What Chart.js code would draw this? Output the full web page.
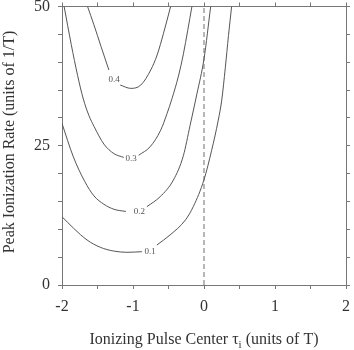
<!DOCTYPE html>
<html>
<head>
<meta charset="utf-8">
<script src="https://cdn.jsdelivr.net/npm/chart.js@4.4.1/dist/chart.umd.min.js"></script>
<style>
html,body{margin:0;padding:0;background:#fff;}
canvas{display:block;}
</style>
</head>
<body>
<canvas id="c" width="354" height="350"></canvas>
<script>
// ---- data ----
const contourLevels = ['0.1', '0.2', '0.3', '0.4'];

// each contour split in two branches around its inline label: [x, y]
const c01Left  = [[-2.0,12.26],[-1.836,10.18],[-1.647,8.08],[-1.461,6.77],[-1.274,6.10],[-1.086,5.87],[-0.875,5.98]];
const c01Right = [[-0.664,7.18],[-0.478,8.98],[-0.26,11.7],[-0.15,14.1],[0.0,18.9],[0.108,24.2],[0.201,29.6],[0.25,33.2],[0.30,39.0],[0.345,44.8],[0.389,50]];

const c02Left  = [[-2.0,29.0],[-1.84,23.0],[-1.68,18.6],[-1.55,16.0],[-1.41,14.5],[-1.27,13.6],[-1.10,13.2]];
const c02Right = [[-0.805,14.06],[-0.618,15.85],[-0.431,18.85],[-0.291,23.2],[-0.197,28.6],[-0.10,34.3],[0.0,40.6],[0.094,50]];

const c03Left  = [[-1.97,50],[-1.87,43.2],[-1.78,37.6],[-1.70,33.4],[-1.62,30.4],[-1.55,28.5],[-1.41,25.3],[-1.27,23.6],[-1.13,22.9]];
const c03Right = [[-0.92,23.3],[-0.76,24.8],[-0.61,27.8],[-0.52,30.8],[-0.45,33.5],[-0.36,37.5],[-0.29,41.5],[-0.17,50]];

const c04Left  = [[-1.64,50],[-1.55,46.7],[-1.45,42.8],[-1.34,38.6]];
const c04Right = [[-1.18,35.9],[-1.03,35.3],[-0.89,35.9],[-0.75,38.6],[-0.66,41.3],[-0.57,45.2],[-0.47,50]];

// inline label anchor points (data coordinates)
const labelX = [-0.758, -0.91, -1.028, -1.265];
const labelY = [5.98, 13.16, 22.75, 36.8];

// reference line at tau_i = 0
const refLineX = [0, 0];
const refLineY = [0, 50];

// axes
const xRange = [-2, 2];
const yRange = [0, 50];
const xTickStep = 0.5;
const yTickStep = 5;
const xTickLabels = [-2, -1, 0, 1, 2];
const yTickLabels = [0, 25, 50];

const xTitleMain = 'Ionizing Pulse Center \u03C4';
const xTitleSub = 'i';
const xTitleTail = ' (units of T)';
const yTitle = 'Peak Ionization Rate (units of 1/T)';

// ---- build ----
const toPts = a => a.map(p => ({x: p[0], y: p[1]}));
const curveColor = '#555';
const axisColor = '#777';
const textColor = '#333';
const serif = '"Liberation Serif", "Times New Roman", serif';

const branches = [c01Left, c01Right, c02Left, c02Right, c03Left, c03Right, c04Left, c04Right];
const datasets = branches.map(b => ({
  data: toPts(b),
  showLine: true,
  borderColor: curveColor,
  borderWidth: 1,
  pointRadius: 0,
  cubicInterpolationMode: 'monotone',
  fill: false
}));
datasets.push({
  data: refLineX.map((x, i) => ({x: x, y: refLineY[i]})),
  showLine: true,
  borderColor: '#888',
  borderWidth: 1.2,
  borderDash: [5, 3],
  pointRadius: 0,
  tension: 0,
  fill: false
});

const near = (v, arr) => arr.some(t => Math.abs(t - v) < 1e-9);

const labelPlugin = {
  id: 'contourLabels',
  afterDatasetsDraw(chart) {
    const ctx = chart.ctx, xs = chart.scales.x, ys = chart.scales.y;
    ctx.save();
    ctx.font = '9px ' + serif;
    ctx.fillStyle = '#555';
    ctx.textAlign = 'center';
    ctx.textBaseline = 'middle';
    contourLevels.forEach((lv, i) => {
      ctx.fillText(lv, xs.getPixelForValue(labelX[i]), ys.getPixelForValue(labelY[i]));
    });
    ctx.restore();
  },
  afterDraw(chart) {
    const ctx = chart.ctx, ca = chart.chartArea;
    ctx.save();
    ctx.fillStyle = textColor;
    // x title with subscript
    const mainFont = '16px ' + serif, subFont = '11px ' + serif;
    ctx.font = mainFont;
    const w1 = ctx.measureText(xTitleMain).width;
    const w3 = ctx.measureText(xTitleTail).width;
    ctx.font = subFont;
    const w2 = ctx.measureText(xTitleSub).width;
    const total = w1 + w2 + w3;
    let x0 = (ca.left + ca.right) / 2 - total / 2;
    const base = 344;
    ctx.textAlign = 'left';
    ctx.textBaseline = 'alphabetic';
    ctx.font = mainFont;
    ctx.fillText(xTitleMain, x0, base);
    ctx.font = subFont;
    ctx.fillText(xTitleSub, x0 + w1, base + 4);
    ctx.font = mainFont;
    ctx.fillText(xTitleTail, x0 + w1 + w2, base);
    // y title
    ctx.translate(10, 142);
    ctx.rotate(-Math.PI / 2);
    ctx.textAlign = 'center';
    ctx.textBaseline = 'middle';
    ctx.fillText(yTitle, 0, 0);
    ctx.restore();
  }
};

const zeroPad = s => { s.paddingTop = 0; s.paddingBottom = 0; s.paddingLeft = 0; s.paddingRight = 0; };
const tickFont = {family: serif, size: 16};
const gridOpts = {drawOnChartArea: false, drawTicks: true, tickLength: 4, color: axisColor};
const borderOpts = {display: true, color: axisColor, width: 1};

new Chart(document.getElementById('c'), {
  type: 'scatter',
  data: {datasets: datasets},
  options: {
    responsive: false,
    animation: false,
    devicePixelRatio: 1,
    layout: {padding: 0},
    plugins: {legend: {display: false}, tooltip: {enabled: false}},
    scales: {
      x: {
        type: 'linear', position: 'bottom', min: xRange[0], max: xRange[1],
        ticks: {stepSize: xTickStep, font: tickFont, color: textColor, padding: 8, maxRotation: 0,
                autoSkip: false, callback: v => near(v, xTickLabels) ? String(Math.round(v)) : ''},
        grid: gridOpts, border: borderOpts,
        afterFit: s => { s.height = 65; zeroPad(s); }
      },
      x2: {
        type: 'linear', position: 'top', min: xRange[0], max: xRange[1],
        ticks: {stepSize: xTickStep, display: false},
        grid: gridOpts, border: borderOpts,
        afterFit: s => { s.height = 6.5; zeroPad(s); }
      },
      y: {
        type: 'linear', position: 'left', min: yRange[0], max: yRange[1],
        ticks: {stepSize: yTickStep, font: tickFont, color: textColor, padding: 8,
                autoSkip: false, callback: v => near(v, yTickLabels) ? String(Math.round(v)) : ''},
        grid: gridOpts, border: borderOpts,
        afterFit: s => { s.width = 62; zeroPad(s); }
      },
      y2: {
        type: 'linear', position: 'right', min: yRange[0], max: yRange[1],
        ticks: {stepSize: yTickStep, display: false},
        grid: gridOpts, border: borderOpts,
        afterFit: s => { s.width = 8; zeroPad(s); }
      }
    }
  },
  plugins: [labelPlugin]
});
</script>
</body>
</html>
